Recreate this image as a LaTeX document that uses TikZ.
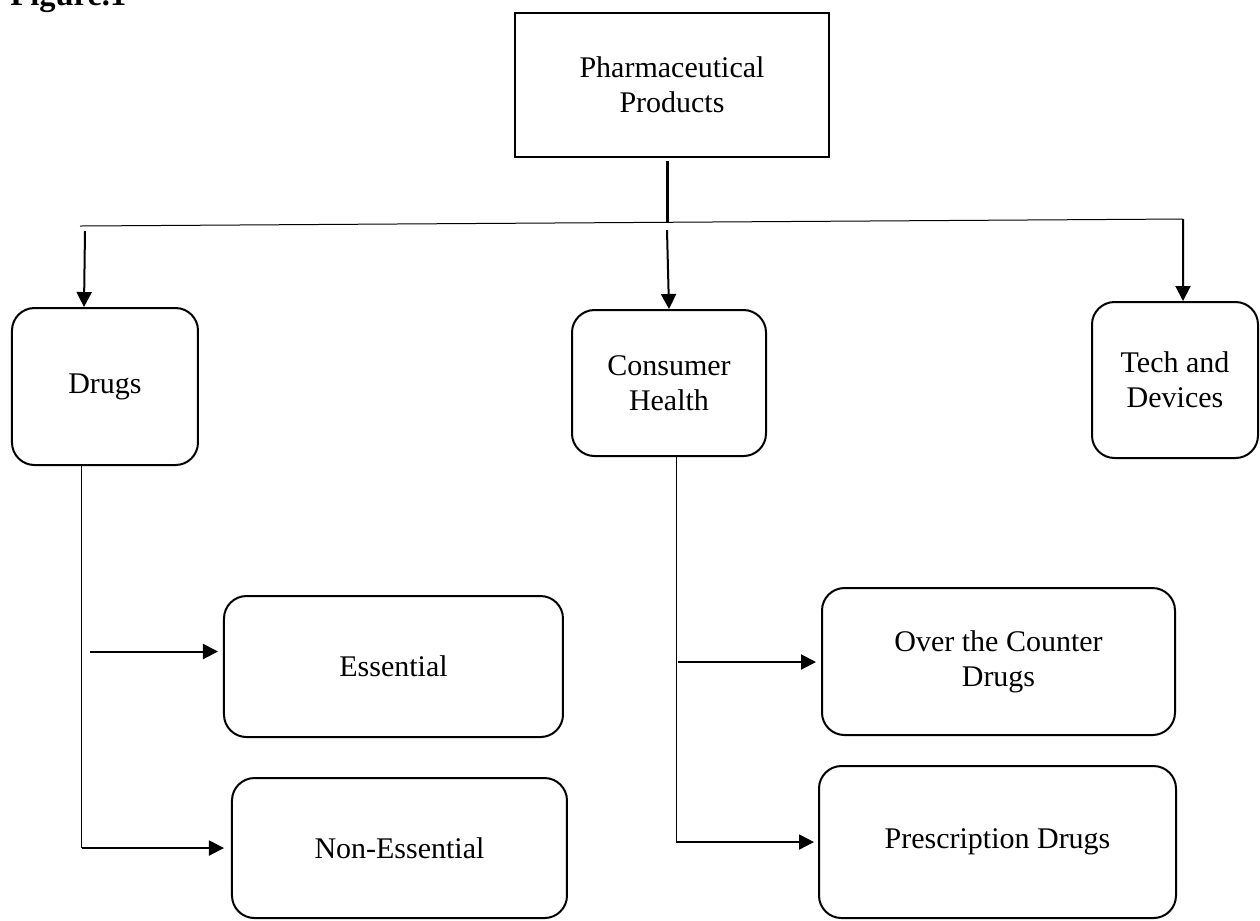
\documentclass[tikz,border=0pt]{standalone}
\usepackage{fontspec}
\setmainfont{Liberation Serif}
\usepackage{tikz}
\usetikzlibrary{shapes.geometric, arrows, arrows.meta}
\tikzstyle{arrow} = [thick,-{Triangle[length=6pt,width=6pt]}]
\tikzstyle{wire} = [line width=0.4pt]

\begin{document}
\begin{tikzpicture}[font=\fontsize{12}{14}\selectfont]
   \tikzset{block/.style= {draw, rectangle, line width=1pt, align=center,minimum width=125.6pt,minimum height=57.6pt},
   rblock/.style={draw, shape=rectangle,rounded corners=9pt,thick,align=center},
   }
 \useasboundingbox (0,0) rectangle (504pt,-368pt);
 \node [anchor=base west, inner sep=0pt, font=\fontsize{13}{15}\selectfont\bfseries] (fig) at (4pt,-2pt) {Figure.1};

 \node [block] (prod) at (268.8pt,-34pt) {Pharmaceutical\\Products};
 \node [rblock, below of= prod, xshift=-1.2pt, yshift=-90.75pt, minimum width=77.6pt, minimum height=58.4pt] (consumer) {Consumer\\Health};
 \node [rblock, left of= consumer, xshift=-197.15pt, yshift=-1.4pt, minimum width=74.4pt, minimum height=62.8pt] (drugs) {Drugs};
 \node [rblock, right of= consumer, xshift=173.95pt, yshift=1.2pt, minimum width=66.4pt, minimum height=62.4pt] (tech) {Tech and\\Devices};

 \node [rblock, below of= drugs, xshift=115.4pt, yshift=-83.55pt, minimum width=135.6pt, minimum height=56.4pt] (essential) {Essential};
 \node [rblock, below of= essential, xshift=2.4pt, yshift=-44.15pt, minimum width=134pt, minimum height=56pt] (nonessential) {Non-Essential};
 \node [rblock, below of= consumer, xshift=131.8pt, yshift=-82.95pt, minimum width=141.2pt, minimum height=58.8pt] (otc) {Over the Counter\\Drugs};
 \node [rblock, below of= otc, xshift=-0.4pt, yshift=-43.75pt, minimum width=142.8pt, minimum height=60.8pt] (prescription) {Prescription Drugs};

 \coordinate (barL) at (32pt,-90.4pt);
 \coordinate (barR) at (473.2pt,-87.6pt);
 \coordinate (hub) at (266.8pt,-88.9pt);
 \coordinate (d0) at (34pt,-92.4pt);
 \coordinate (c0) at (266.8pt,-92pt);
 \coordinate (e0) at (36pt,-260.6pt);
 \coordinate (o0) at (271.2pt,-264.8pt);
 \coordinate (dtop) at ([xshift=-9.2pt]drugs.south);
 \coordinate (ctop) at ([xshift=2.8pt]consumer.south);

 \draw [line width=1.2pt] ([xshift=-2pt,yshift=-1.2pt]prod.south) -- (hub);
 \draw [wire] (barL) -- (barR);
 \draw [arrow] (d0) -- ([xshift=-8.4pt]drugs.north);
 \draw [arrow] (c0) -- (consumer.north);
 \draw [arrow] (barR) -- ([xshift=3.2pt]tech.north);

 \draw [wire] (dtop) -- (dtop |- nonessential.west) coordinate (dcorner);
 \draw [arrow, shorten >=2pt] (e0) -- (e0 -| essential.west);
 \draw [arrow, shorten >=2.8pt] (dcorner) -- (nonessential.west);

 \draw [wire] (ctop) -- (ctop |- prescription.west) coordinate (ccorner);
 \draw [arrow, shorten >=2pt] (o0) -- (o0 -| otc.west);
 \draw [arrow, shorten >=1.6pt] (ccorner) -- (prescription.west);
\end{tikzpicture}
\end{document}
